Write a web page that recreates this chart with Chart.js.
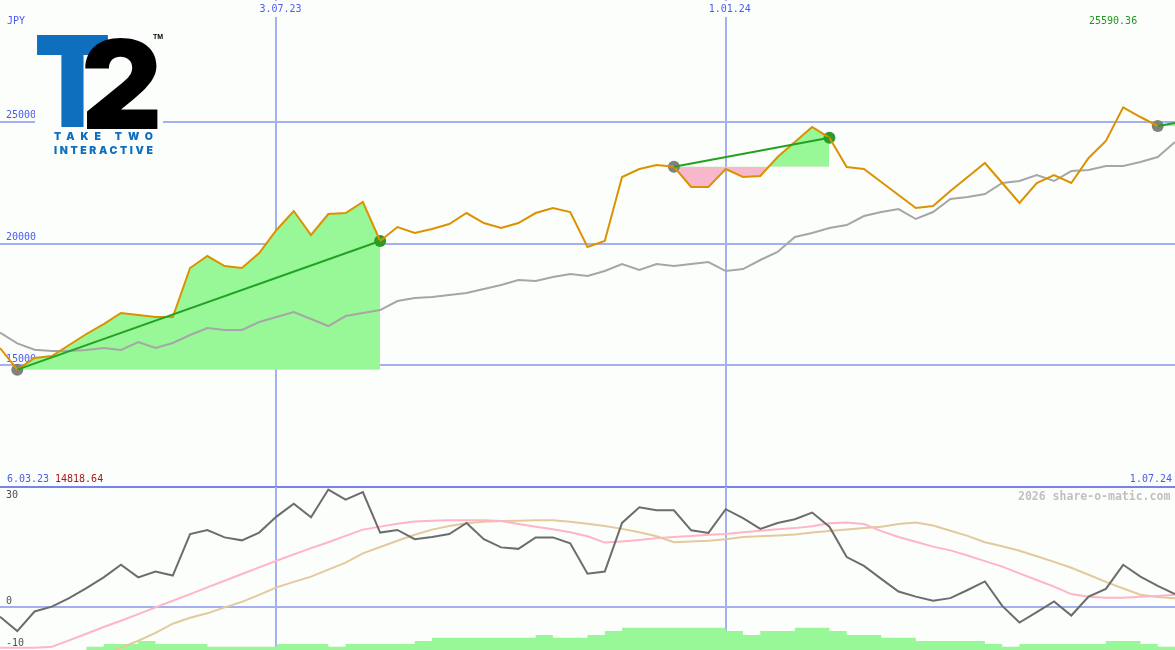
<!DOCTYPE html>
<html>
<head>
<meta charset="utf-8">
<script src="https://cdn.jsdelivr.net/npm/chart.js@4.4.1/dist/chart.umd.min.js"></script>
<style>
html,body{margin:0;padding:0;background:#fcfefc;}
#wrap{position:relative;width:1175px;height:650px;overflow:hidden;background:#fcfefc;}
#c1{position:absolute;left:0;top:0;}
#c2{position:absolute;left:0;top:487px;}
.lbl{position:absolute;font-family:"DejaVu Sans Mono",monospace;font-size:10px;line-height:12px;white-space:nowrap;}
#logo{position:absolute;left:35px;top:31px;width:128px;height:128px;background:#fcfefc;overflow:hidden;}
.lg{position:absolute;font-family:Inter,"Liberation Sans",sans-serif;font-weight:900;font-size:126px;line-height:126px;white-space:nowrap;}
#lgT{left:-1px;top:-13px;color:#0e6fbe;transform:scaleX(0.89);transform-origin:0 0;}
#lg2{left:46px;top:-11px;color:#000;transform:scaleY(0.98);transform-origin:0 100%;}
#tm{position:absolute;left:118px;top:2px;font-family:"Liberation Sans",sans-serif;font-weight:700;font-size:7px;line-height:8px;color:#000;}
.lt{position:absolute;left:19px;font-family:Inter,"Liberation Sans",sans-serif;font-weight:900;font-size:10.5px;line-height:11px;color:#0e6fbe;white-space:nowrap;}
#tt1{top:100px;}
#tt2{top:114px;}
#wm{position:absolute;left:1018px;top:489px;font-family:"DejaVu Sans Mono",monospace;font-weight:700;font-size:11.5px;line-height:14px;color:#c0c0c0;white-space:nowrap;}
</style>
</head>
<body>
<div id="wrap">
  <canvas id="c1" width="1175" height="489"></canvas>
  <canvas id="c2" width="1175" height="163"></canvas>
  <div class="lbl" style="left:7px;top:15px;color:#4a5cf0;">JPY</div>
  <div class="lbl" style="left:1089px;top:15px;color:#1a9a1a;">25590.36</div>
  <div class="lbl" style="left:7px;top:473px;color:#4a5cf0;">6.03.23</div>
  <div class="lbl" style="left:55px;top:473px;color:#a81818;">14818.64</div>
  <div id="wm">2026 share-o-matic.com</div>
  <div id="logo">
    <span class="lg" id="lgT">T</span><span class="lg" id="lg2">2</span><span id="tm">TM</span>
    <div class="lt" id="tt1">TAKE TWO</div>
    <div class="lt" id="tt2">INTERACTIVE</div>
  </div>
</div>
<script>
// ---------- data (weekly) ----------
const labels = ['13.03.23','20.03.23','27.03.23','3.04.23','10.04.23','17.04.23','24.04.23','1.05.23','8.05.23','15.05.23',
'22.05.23','29.05.23','5.06.23','12.06.23','19.06.23','26.06.23','3.07.23','10.07.23','17.07.23','24.07.23',
'31.07.23','7.08.23','14.08.23','21.08.23','28.08.23','4.09.23','11.09.23','18.09.23','25.09.23','2.10.23',
'9.10.23','16.10.23','23.10.23','30.10.23','6.11.23','13.11.23','20.11.23','27.11.23','4.12.23','11.12.23',
'18.12.23','25.12.23','1.01.24','8.01.24','15.01.24','22.01.24','29.01.24','5.02.24','12.02.24','19.02.24',
'26.02.24','4.03.24','11.03.24','18.03.24','25.03.24','1.04.24','8.04.24','15.04.24','22.04.24','29.04.24',
'6.05.24','13.05.24','20.05.24','27.05.24','3.06.24','10.06.24','17.06.24','24.06.24','1.07.24'];

const close = [15708,14818.64,15297,15379,15831,16283,16693,17145,17063,16981,
16981,18993,19486,19075,18993,19609,20554,21334,20349,21211,
21252,21704,20102,20677,20431,20595,20800,21252,20841,20636,
20841,21252,21457,21293,19856,20102,22731,23059,23220,23150,
22320,22320,23059,22731,22772,23552,24168,24784,24340,23141,
23059,22525,21991,21457,21539,22155,22731,23306,22484,21663,
22484,22813,22484,23511,24209,25590.36,25195,24825,null];

const average = [16337,15900,15640,15585,15585,15626,15708,15626,15954,15708,
15913,16242,16529,16447,16447,16775,16981,17186,16899,16611,
17022,17145,17268,17638,17761,17802,17884,17966,18131,18295,
18500,18459,18624,18747,18665,18870,19158,18911,19158,19075,
19158,19240,18870,18952,19322,19650,20267,20431,20636,20759,
21129,21293,21416,21006,21293,21827,21909,22032,22484,22566,
22813,22566,22977,23018,23182,23182,23347,23552,24168];

const momentum = [-2.5,-6.4,-1.1,0.2,2.5,5.2,8.1,11.5,8.1,9.7,
8.6,19.8,20.9,18.9,18.1,20.2,24.5,28.0,24.3,31.8,
29.1,31.1,20.2,20.9,18.4,19.0,19.8,22.8,18.4,16.2,
15.8,18.9,18.9,17.3,9.1,9.7,22.8,27.0,26.2,26.2,
20.8,20.1,26.5,24.1,21.2,22.8,23.8,25.6,21.8,13.6,
11.2,7.7,4.3,2.9,1.8,2.5,4.7,7.0,0.4,-4.1,
-1.3,1.6,-2.2,2.9,5.0,11.5,8.3,5.8,3.6];

const momentumFast = [-10.9,-10.9,-10.9,-10.6,-8.9,-7.1,-5.3,-3.6,-1.8,0.0,
1.8,3.6,5.4,7.2,9.0,10.8,12.6,14.3,16.0,17.6,
19.3,21.0,21.8,22.6,23.2,23.4,23.5,23.5,23.5,23.3,
22.5,21.8,21.1,20.3,19.2,17.5,17.8,18.2,18.7,19.0,
19.3,19.6,19.8,20.3,20.7,21.1,21.4,21.9,22.7,22.9,
22.5,20.6,19.0,17.7,16.4,15.4,14.0,12.5,11.0,9.2,
7.4,5.6,3.6,2.9,2.6,2.6,2.9,3.1,3.4];

const momentumSlow = [-22,-21,-19.5,-18,-16.5,-14.6,-12.8,-10.9,-9.0,-6.9,
-4.4,-2.8,-1.6,0.0,1.5,3.4,5.4,6.9,8.3,10.2,
12.1,14.6,16.3,18.0,19.6,21.0,22.0,22.7,23.1,23.3,
23.4,23.5,23.5,23.1,22.6,22.0,21.2,20.3,19.2,17.6,
17.8,18.0,18.4,19.0,19.2,19.4,19.7,20.2,20.6,21.0,
21.4,21.8,22.5,22.9,22.1,20.7,19.3,17.6,16.5,15.3,
13.8,12.3,10.7,8.8,6.9,5.1,3.4,2.8,2.5];

const volume = [0,0,0,0,0,1.0,1.8,1.8,2.7,1.8,
1.8,1.8,1.0,1.0,1.0,1.0,1.8,1.8,1.8,1.0,
1.8,1.8,1.8,1.8,2.7,3.7,3.7,3.7,3.7,3.7,
3.7,4.5,3.7,3.7,4.5,5.7,6.7,6.7,6.7,6.7,
6.7,6.7,5.7,4.5,5.7,5.7,6.7,6.7,5.7,4.5,
4.5,3.7,3.7,2.7,2.7,2.7,2.7,1.8,1.0,1.8,
1.8,1.8,1.8,1.8,2.7,2.7,1.8,1.0,1.0];

const tradeEntries = ['20.03.23','11.12.23','24.06.24'];
const tradeExits   = ['14.08.23','12.02.24','1.07.24'];
const openQuote = 24950;   // quote of the still open position

const priceTicks = [15000,20000,25000];
const momentumTicks = [30,0,-10];
const gridDates = ['3.07.23','1.01.24'];

// ---------- styles ----------
const BG = '#fcfefc', GRID = '#a4b0f0', DIVIDER = '#7484ec', BLUE = '#4a5cf0';
const ORANGE = '#dc9200', AVG = '#a6a6a6', TRADE = '#22a222';
const FILL_UP = '#98f898', FILL_DOWN = '#f8b8cc';
const MONO = '"DejaVu Sans Mono", monospace';
const zeroH = s => { s.height = 0; s.paddingLeft = 0; s.paddingRight = 0; s.paddingTop = 0; s.paddingBottom = 0; };
const zeroW = s => { s.width = 0; s.paddingLeft = 0; s.paddingRight = 0; s.paddingTop = 0; s.paddingBottom = 0; };
const gridIdx = gridDates.map(d => labels.indexOf(d));
const xGridColor = ctx => gridIdx.includes(ctx.index) ? GRID : 'rgba(0,0,0,0)';

// ---------- trade datasets ----------
const tradeSets = [];
tradeEntries.forEach((entry, t) => {
  const i0 = labels.indexOf(entry), i1 = labels.indexOf(tradeExits[t]);
  const entryVal = close[i0];
  const closed = close[i1] !== null;
  const exitVal = closed ? close[i1] : openQuote;
  tradeSets.push({
    data: labels.map((_, i) => (i >= i0 && i <= i1) ? (close[i] !== null ? close[i] : openQuote) : null),
    borderWidth: 0, borderColor: 'rgba(0,0,0,0)', pointRadius: 0,
    fill: { target: { value: entryVal }, above: FILL_UP, below: FILL_DOWN },
    order: 10
  });
  tradeSets.push({
    data: labels.map((_, i) => i === i0 ? entryVal : (i === i1 ? exitVal : null)),
    borderColor: TRADE, borderWidth: 2, pointRadius: 0, spanGaps: true, fill: false,
    order: 3
  });
  tradeSets.push({
    data: labels.map((_, i) => i === i0 ? entryVal : ((i === i1 && closed) ? exitVal : null)),
    showLine: false, pointRadius: 6, pointBorderWidth: 0,
    pointBackgroundColor: ctx => ctx.dataIndex === i0 ? '#808080' : '#2a9a2a',
    order: 7
  });
});

new Chart(document.getElementById('c1'), {
  type: 'line',
  data: {
    labels,
    datasets: [
      ...tradeSets,
      { data: average, borderColor: AVG, borderWidth: 2, pointRadius: 0, fill: false, order: 8 },
      { data: close, borderColor: ORANGE, borderWidth: 2, pointRadius: 0, fill: false, order: 5 }
    ]
  },
  options: {
    responsive: false, animation: false, devicePixelRatio: 1, events: [],
    layout: { padding: { left: 0, right: 0, top: 0, bottom: 2 }, autoPadding: false },
    plugins: { legend: { display: false }, tooltip: { enabled: false } },
    elements: { line: { tension: 0 } },
    scales: {
      x: {
        type: 'category', position: 'bottom', offset: false,
        grid: { color: xGridColor, lineWidth: 2, drawTicks: false, offset: false },
        border: { display: true, color: DIVIDER, width: 2 },
        ticks: { autoSkip: false, maxRotation: 0, minRotation: 0, mirror: true, padding: 0, align: 'inner',
          labelOffset: -3, color: BLUE, font: { family: MONO, size: 10, lineHeight: '16px' },
          callback: (v, i) => i === labels.length - 1 ? labels[i] : '' },
        afterFit: zeroH
      },
      xTop: {
        type: 'category', position: 'top', offset: false,
        grid: { display: false, drawTicks: false }, border: { display: false },
        ticks: { autoSkip: false, maxRotation: 0, minRotation: 0, mirror: true, padding: 1, labelOffset: 4,
          color: BLUE, font: { family: MONO, size: 10, lineHeight: '16px' },
          showLabelBackdrop: ctx => gridIdx.includes(ctx.index), backdropColor: BG,
          backdropPadding: { top: 0, bottom: 0, left: 2, right: 2 },
          callback: (v, i) => gridDates.includes(labels[i]) ? labels[i] : '' },
        afterFit: zeroH
      },
      y: {
        type: 'linear', position: 'left', min: 10000, max: 30000,
        grid: { color: ctx => priceTicks.includes(ctx.tick.value) ? GRID : 'rgba(0,0,0,0)', lineWidth: 2, drawTicks: false },
        border: { display: false },
        ticks: { stepSize: 5000, includeBounds: false, autoSkip: false, mirror: true, padding: 6, labelOffset: -6, color: BLUE,
          font: { family: MONO, size: 10 },
          callback: v => priceTicks.includes(v) ? String(v) : '' },
        afterFit: zeroW
      }
    }
  }
});

new Chart(document.getElementById('c2'), {
  type: 'line',
  data: {
    labels,
    datasets: [
      { data: volume, yAxisID: 'yv', stepped: 'before', borderWidth: 0, borderColor: 'rgba(0,0,0,0)',
        backgroundColor: FILL_UP, fill: 'start', pointRadius: 0, order: 10 },
      { data: momentumSlow, borderColor: '#e2ca9c', borderWidth: 2, pointRadius: 0, fill: false, order: 4 },
      { data: momentumFast, borderColor: '#ffb4c8', borderWidth: 2, pointRadius: 0, fill: false, order: 3 },
      { data: momentum, borderColor: '#6c6c6c', borderWidth: 2, pointRadius: 0, fill: false, order: 1 }
    ]
  },
  options: {
    responsive: false, animation: false, devicePixelRatio: 1, events: [],
    layout: { padding: 0, autoPadding: false },
    plugins: { legend: { display: false }, tooltip: { enabled: false } },
    elements: { line: { tension: 0 } },
    scales: {
      x: {
        type: 'category', position: 'bottom', offset: false,
        grid: { color: xGridColor, lineWidth: 2, drawTicks: false, offset: false },
        border: { display: false }, ticks: { display: false },
        afterFit: zeroH
      },
      y: {
        type: 'linear', position: 'left', min: -11.5, max: 32.5,
        grid: { color: ctx => ctx.tick.value === 0 ? GRID : 'rgba(0,0,0,0)', lineWidth: 2, drawTicks: false },
        border: { display: false },
        ticks: { stepSize: 10, includeBounds: false, autoSkip: false, mirror: true, padding: 6, labelOffset: -6, color: '#505050',
          font: { family: MONO, size: 10 },
          callback: v => v === 0 ? '0' : '' },
        afterFit: zeroW
      },
      y2: {
        type: 'linear', position: 'left', min: -11.5, max: 32.5,
        grid: { display: false, drawTicks: false }, border: { display: false },
        ticks: { stepSize: 10, includeBounds: false, autoSkip: false, mirror: true, padding: 6, labelOffset: -1, color: '#505050',
          font: { family: MONO, size: 10 },
          callback: v => (v !== 0 && momentumTicks.includes(v)) ? String(v) : '' },
        afterFit: zeroW
      },
      yv: { type: 'linear', display: false, min: 0, max: 49 }
    }
  }
});

// logo text spacing to fit its box
function fit(id, target) {
  const el = document.getElementById(id);
  const n = el.textContent.length;
  el.style.letterSpacing = '0px';
  const w = el.getBoundingClientRect().width;
  el.style.letterSpacing = ((target - w) / (n - 1)) + 'px';
}
fit('tt1', 99); fit('tt2', 99);
</script>
</body>
</html>
